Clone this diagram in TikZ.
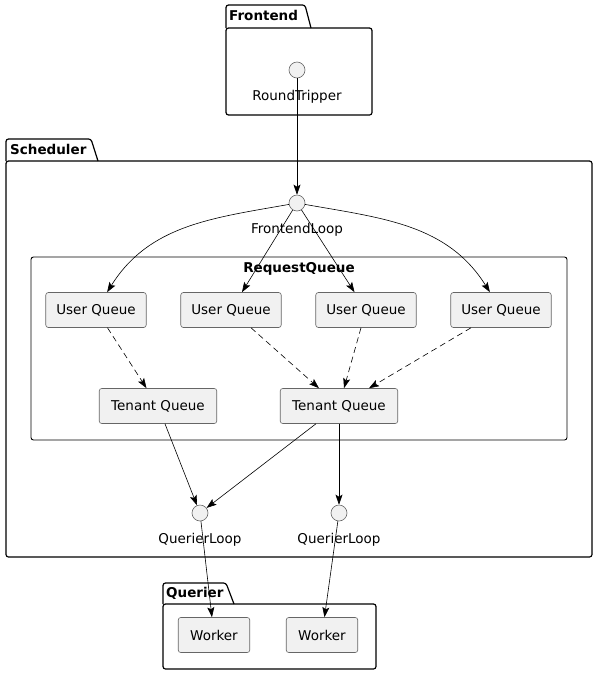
\documentclass[tikz,border=0pt]{standalone}
\usepackage{fontspec}
\setmainfont{DejaVu Sans}
\usetikzlibrary{arrows.meta}
\definecolor{boxgray}{HTML}{F1F1F1}
\begin{document}
\begin{tikzpicture}[x=1pt,y=1pt]
    \tikzset{
    comp/.style={rectangle,rounded corners=2.5pt,fill=boxgray,draw=black!60,line width=0.6pt,minimum height=35pt,inner xsep=10.5pt,font=\fontsize{13.5}{16}\selectfont},
    ifc/.style={circle,minimum size=16pt,inner sep=0pt,fill=boxgray,draw=black!60,line width=0.6pt},
    lbl/.style={inner sep=0pt,label distance=12pt,font=\fontsize{13.5}{16}\selectfont},
    flow/.style={-{Stealth[length=10pt,width=7pt,inset=2pt]},line width=0.6pt},
    feed/.style={flow,dash pattern=on 6pt off 4pt},
    pkg/.style={line width=1.2pt,rounded corners=2.5pt},
    ptitle/.style={anchor=base west,inner sep=0pt,font=\bfseries\fontsize{13.5}{16}\selectfont},
    }
    \useasboundingbox (0,0) rectangle (597,-675);

    % packages
    \draw[pkg] (226,-28) -- (226,-5) -- (305,-5) -- (311,-28);
    \draw[pkg] (226,-28) rectangle (372,-115);
    \node[ptitle] (tfront) at (229,-20) {Frontend};

    \draw[pkg] (6,-161) -- (6,-139) -- (91,-139) -- (98,-161);
    \draw[pkg] (6,-161) rectangle (592,-557);
    \node[ptitle] (tsched) at (10,-154) {Scheduler};

    \draw[pkg] (163,-604) -- (163,-583) -- (226,-583) -- (234,-604);
    \draw[pkg] (163,-604) rectangle (376,-669);
    \node[ptitle] (tquer) at (166,-597) {Querier};

    \draw[line width=0.9pt,rounded corners=2.5pt] (31,-257) rectangle (567,-440);
    \node[ptitle,anchor=base] (treq) at (299,-272) {RequestQueue};

    % nodes
    \node[ifc,label={[lbl]below:RoundTripper}] (rt) at (297,-70) {};
    \node[ifc,label={[lbl]below:FrontendLoop}] (fl) at (297,-203) {};

    \node[comp] (uq1) at (96,-310) {User Queue};
    \node[comp] (uq2) at (231,-310) {User Queue};
    \node[comp] (uq3) at (366,-310) {User Queue};
    \node[comp] (uq4) at (501,-310) {User Queue};

    \node[comp,inner xsep=12pt] (tq1) at (158,-406) {Tenant Queue};
    \node[comp,inner xsep=12pt] (tq2) at (339,-406) {Tenant Queue};

    \node[ifc,label={[lbl]below:QuerierLoop}] (ql1) at (200,-513) {};
    \node[ifc,label={[lbl]below:QuerierLoop}] (ql2) at (339,-513) {};

    \node[comp,inner xsep=12pt] (w1) at (214,-635) {Worker};
    \node[comp,inner xsep=12pt] (w2) at (322,-635) {Worker};

    % connectors
    \draw[flow] (rt) -- (fl);

    \draw[flow] (fl) to[out=190,in=58] (uq1);
    \draw[flow] (fl) -- (uq2);
    \draw[flow] (fl) -- (uq3);
    \draw[flow] (fl) to[out=-10,in=122] (uq4);

    \draw[feed] (uq1) -- (tq1);
    \draw[feed] (uq2) -- (tq2);
    \draw[feed] (uq3) -- (tq2);
    \draw[feed] (uq4) -- (tq2);

    \draw[flow] (tq1) -- (ql1);
    \draw[flow] (tq2) -- (ql1);
    \draw[flow] (tq2) -- (ql2);

    \draw[flow] (ql1) -- (w1);
    \draw[flow] (ql2) -- (w2);
\end{tikzpicture}
\end{document}
